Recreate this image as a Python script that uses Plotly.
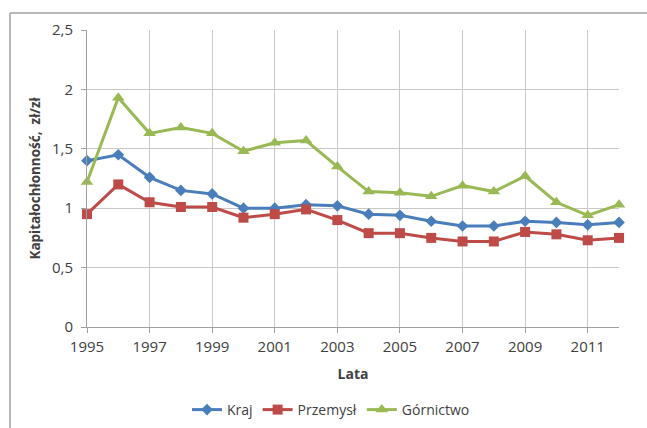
import plotly.graph_objects as go

# Capital intensity (zł of capital per zł of output), 1995-2012
years = list(range(1995, 2013))
kraj = [1.40, 1.45, 1.26, 1.15, 1.12, 1.00, 1.00, 1.03, 1.02, 0.95,
        0.94, 0.89, 0.85, 0.85, 0.89, 0.88, 0.86, 0.88]
przemysl = [0.95, 1.20, 1.05, 1.01, 1.01, 0.92, 0.95, 0.99, 0.90, 0.79,
            0.79, 0.75, 0.72, 0.72, 0.80, 0.78, 0.73, 0.75]
gornictwo = [1.22, 1.93, 1.63, 1.68, 1.63, 1.48, 1.55, 1.57, 1.35, 1.14,
             1.13, 1.10, 1.19, 1.14, 1.27, 1.05, 0.94, 1.03]

series_names = ["Kraj", "Przemysł", "Górnictwo"]
x_ticks = list(range(1995, 2012, 2))
y_ticks = [0, 0.5, 1, 1.5, 2, 2.5]

W, H = 647, 428
L, R, T, B = 87, 28, 30, 101
pw, ph = W - L - R, H - T - B

fig = go.Figure()
styles = [
    (kraj, "#4A7EBB", "diamond", 9),
    (przemysl, "#BE4B48", "square", 10),
    (gornictwo, "#98B954", "triangle-up", 11),
]
for name, (vals, color, sym, size) in zip(series_names, styles):
    fig.add_trace(go.Scatter(
        x=years, y=vals, name=name, mode="lines+markers",
        line=dict(color=color, width=3),
        marker=dict(symbol=sym, size=size, color=color),
        cliponaxis=False,
    ))

font = "Open Sans, Lato, sans-serif"
text_color = "#404040"


def px_x(px):
    return (px - L) / pw


def px_y(py):
    return (H - B - py) / ph


# outer frame (top and left edges)
frame = dict(color="#a0a0a0", width=1.5)
fig.add_shape(type="line", xref="paper", yref="paper",
              x0=px_x(10), x1=px_x(647), y0=px_y(13), y1=px_y(13), line=frame)
fig.add_shape(type="line", xref="paper", yref="paper",
              x0=px_x(10), x1=px_x(10), y0=px_y(13), y1=px_y(428), line=frame)

fig.update_layout(
    width=W, height=H,
    margin=dict(l=L, r=R, t=T, b=B, autoexpand=False),
    paper_bgcolor="white", plot_bgcolor="white",
    separators=", ",
    font=dict(family=font, size=14, color=text_color),
    showlegend=True,
    legend=dict(orientation="h", x=px_x(331), xanchor="center",
                y=px_y(410), yanchor="middle",
                font=dict(size=14, color=text_color),
                itemwidth=30, traceorder="normal"),
    xaxis=dict(
        range=[1995, 2012], tickvals=x_ticks, ticktext=[str(v) for v in x_ticks],
        showgrid=True, gridcolor="#c8c8c8", gridwidth=1,
        showline=True, linecolor="#a0a0a0", linewidth=1,
        ticks="outside", ticklen=5, tickcolor="#a0a0a0",
        ticklabelstandoff=1, automargin=False,
        zeroline=False, tickfont=dict(size=15, color=text_color),
        title=dict(text="<b>Lata</b>", font=dict(size=14, color=text_color), standoff=14),
    ),
    yaxis=dict(
        range=[0, 2.5], tickvals=y_ticks,
        showgrid=True, gridcolor="#c8c8c8", gridwidth=1,
        showline=True, linecolor="#a0a0a0", linewidth=1,
        ticks="outside", ticklen=5, tickcolor="#a0a0a0",
        ticklabelstandoff=5, automargin=False,
        zeroline=False, tickfont=dict(size=15, color=text_color),
        title=dict(text="<b>Kapitałochłonność,  zł/zł</b>",
                   font=dict(size=13.5, color=text_color), standoff=8),
    ),
)

fig.write_html("out.html")
